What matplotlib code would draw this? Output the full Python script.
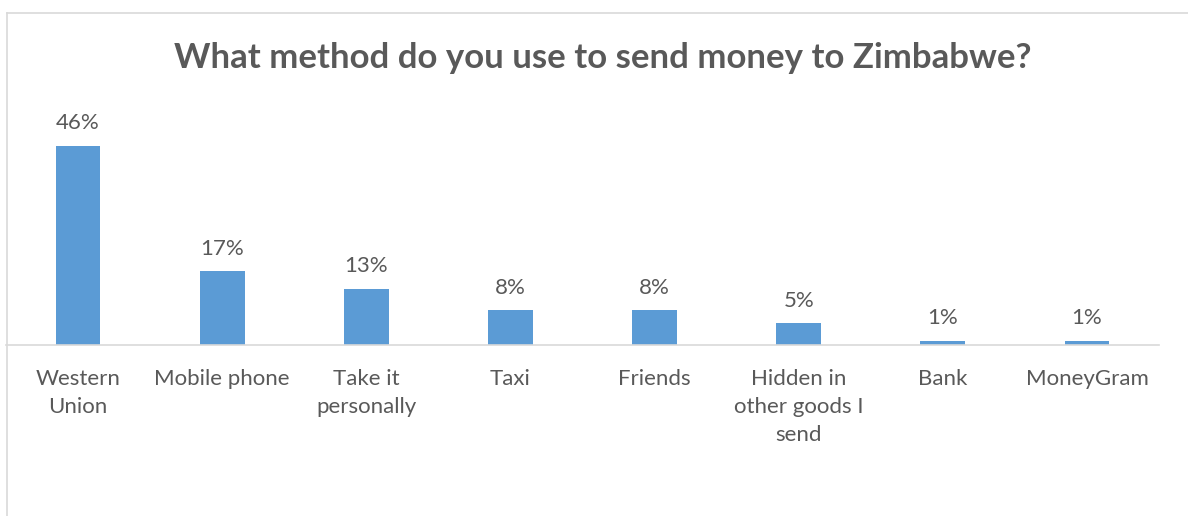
import matplotlib.pyplot as plt
from matplotlib.lines import Line2D
import numpy as np

categories = ["Western\nUnion", "Mobile phone", "Take it\npersonally", "Taxi",
              "Friends", "Hidden in\nother goods I\nsend", "Bank", "MoneyGram"]
shares = [46, 17, 13, 8, 8, 5, 1, 1]

bar_color = "#5B9BD5"
text_color = "#595959"
line_color = "#D9D9D9"

plt.rcParams['font.family'] = ['Lato', 'DejaVu Sans']

fig = plt.figure(figsize=(11.88, 5.16), dpi=100)
# plot area placed to match the reference in pixels
ax = fig.add_axes([6 / 1188, 1 - 345 / 516, 1153 / 1188, 245 / 516])

x = np.arange(len(categories))
ax.bar(x, shares, width=0.31, color=bar_color)
ax.set_xlim(-0.5, len(categories) - 0.5)
ax.set_ylim(0, 245 / 4.33)

for xi, v in zip(x, shares):
    ax.annotate(f"{v}%", (xi, v), xytext=(0, 9), textcoords="offset points",
                ha="center", va="bottom", fontsize=16, color=text_color)

ax.set_xticks(x, categories)
ax.tick_params(axis="x", length=0, pad=17, labelsize=16, labelcolor=text_color)
for lbl in ax.get_xticklabels():
    lbl.set_linespacing(1.5)
    lbl.set_verticalalignment("top")
ax.set_yticks([])
for side in ["top", "right", "left"]:
    ax.spines[side].set_visible(False)
ax.spines["bottom"].set_color(line_color)
ax.spines["bottom"].set_linewidth(1.2)

fig.text(603 / 1188, 1 - 58 / 516, "What method do you use to send money to Zimbabwe?",
         ha="center", va="center", fontsize=25, fontweight="bold", color=text_color)

# chart frame (only left and top edges are inside the picture)
fig.add_artist(Line2D([7 / 1188, 7 / 1188], [0, 1 - 13 / 516], color=line_color, lw=1.2))
fig.add_artist(Line2D([7 / 1188, 1], [1 - 13 / 516, 1 - 13 / 516], color=line_color, lw=1.2))

fig.savefig("out.png", dpi=100, facecolor="white")
